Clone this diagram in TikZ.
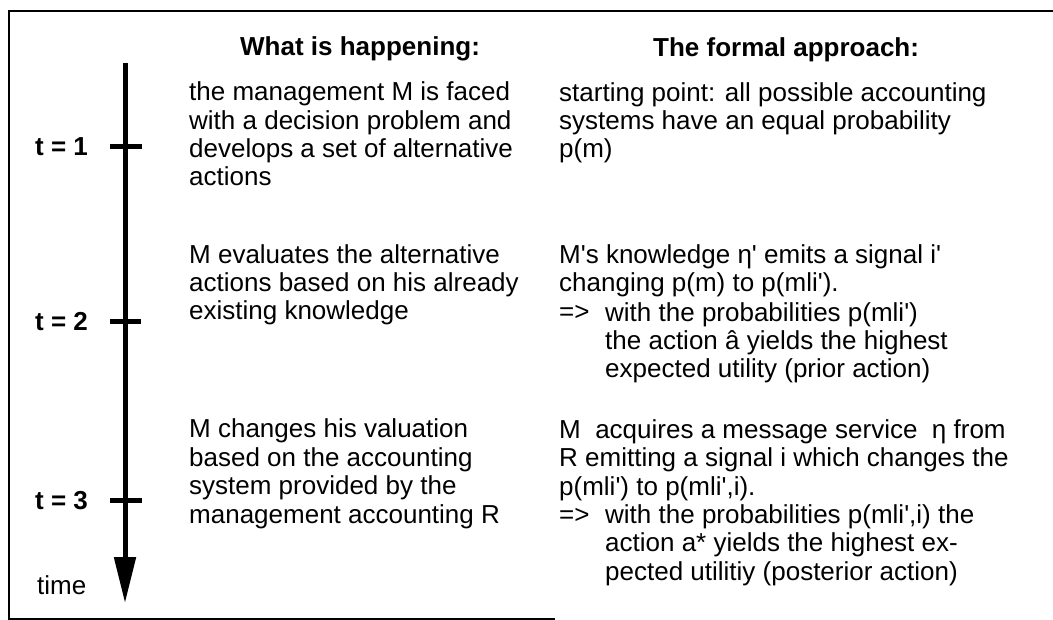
\documentclass[tikz,border=0pt]{standalone}
\usepackage{fontspec}
\setmainfont{Liberation Sans}
\usetikzlibrary{arrows.meta}
\newcommand{\ap}{\textquotesingle}
\begin{document}
\begin{tikzpicture}[x=1pt,y=-1pt,
    txt/.style={anchor=base west,inner sep=0,align=left,font=\fontsize{26}{28.4}\selectfont},
    hdr/.style={txt,font=\fontsize{26}{28.4}\selectfont\bfseries},
    tick/.style={line width=5pt}]
    \useasboundingbox (0,0) rectangle (1053,620);
    \draw[line width=2.5pt] (1053,11) -- (9,11) -- (9,619) -- (555,619);

    \node[hdr] (head_what) at (240,56) {What is happening:} ;
    \node[hdr] (head_formal) at (653,57) {The formal approach:} ;

    \coordinate (axis_top) at (125,63) ;
    \coordinate (axis_end) at (125,603) ;
    \draw[line width=5pt,-{Triangle[length=46pt,width=21pt]}] (axis_top) -- (axis_end) ;

    \node[hdr] (t_1) at (35,156) {t = 1} ;
    \node[hdr] (t_2) at (35,331) {t = 2} ;
    \node[hdr] (t_3) at (35,509) {t = 3} ;
    \node[txt] (time) at (37,594) {time} ;
    \draw[tick] (110,147) -- (142,147) ;
    \draw[tick] (110,322) -- (141,322) ;
    \draw[tick] (110,500) -- (142,500) ;

    \node[txt] (what_1) at (189,186) {the management M is faced\\with a decision problem and\\develops a set of alternative\\actions} ;
    \node[txt] (what_2) at (189,320) {M evaluates the alternative\\actions based on his already\\existing knowledge} ;
    \node[txt] (what_3) at (189,523) {M changes his valuation\\based on the accounting\\system provided by the\\management accounting R} ;

    \node[txt] (formal_1) at (559,158) {starting point: all possible accounting\\systems have an equal probability\\p(m)} ;
    \node[txt] (formal_2) at (559,292) {M\ap s knowledge η\ap\ emits a signal i\ap\\changing p(m) to p(mli\ap).} ;
    \node[txt] (then_2) at (559,321) {=>} ;
    \node[txt] (formal_2b) at (605,378) {with the probabilities p(mli\ap)\\the action â yields the highest\\expected utility (prior action)} ;
    \node[txt] (formal_3) at (559,495) {M\ \ acquires a message service \ η from\\R emitting a signal i which changes the\\p(mli\ap) to p(mli\ap,i).} ;
    \node[txt] (then_3) at (559,523) {=>} ;
    \node[txt] (formal_3b) at (605,580) {with the probabilities p(mli\ap,i) the\\action a* yields the highest ex-\\pected utilitiy (posterior action)} ;
\end{tikzpicture}
\end{document}
